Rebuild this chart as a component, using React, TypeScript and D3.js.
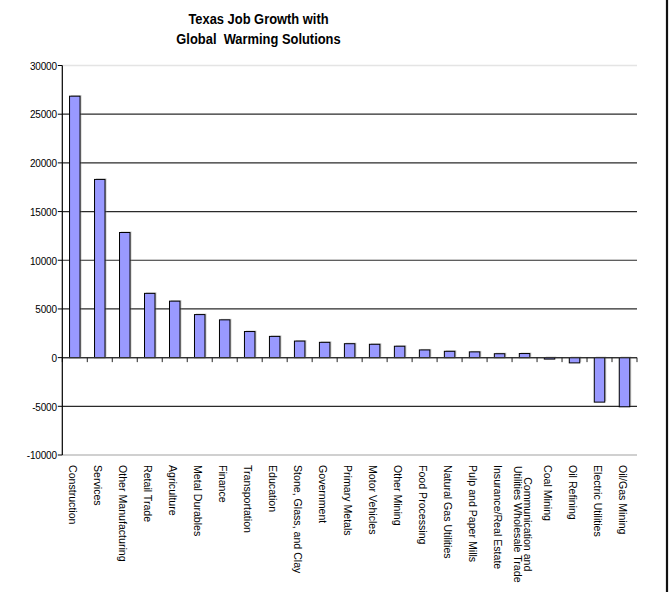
import React from "react";
import * as d3 from "d3";

const categories: string[] = [
  "Construction",
  "Services",
  "Other Manufacturing",
  "Retail Trade",
  "Agriculture",
  "Metal Durables",
  "Finance",
  "Transportation",
  "Education",
  "Stone, Glass, and Clay",
  "Government",
  "Primary Metals",
  "Motor Vehicles",
  "Other Mining",
  "Food Processing",
  "Natural Gas Utilities",
  "Pulp and Paper Mills",
  "Insurance/Real Estate",
  "Communication and\nUtilities Wholesale Trade",
  "Coal Mining",
  "Oil Refining",
  "Electric Utilities",
  "Oil/Gas Mining",
];

const jobs: number[] = [
  26850, 18300, 12850, 6600, 5800, 4420, 3880, 2680, 2180, 1700, 1570, 1430,
  1370, 1170, 790, 650, 590, 400, 420, -150, -540, -4570, -5050,
];

const yTicks: number[] = [30000, 25000, 20000, 15000, 10000, 5000, 0, -5000, -10000];

const titleLines: string[] = ["Texas Job Growth with", "Global  Warming Solutions"];

const W = 671;
const H = 592;
const left = 62.3;
const right = 637;
const top = 65.5;
const bottom = 455;
const labelTop = 465;
const FONT = "Arial, 'Liberation Sans', sans-serif";

export default function App() {
  const x = d3
    .scaleBand<string>()
    .domain(categories)
    .range([left, right])
    .paddingInner(0.58)
    .paddingOuter(0.29);
  const y = d3.scaleLinear().domain([-10000, 30000]).range([bottom, top]);
  const step = x.step();
  const y0 = y(0);
  const boundaries = d3.range(categories.length + 1).map((k) => left + k * step);

  return (
    <svg
      width={W}
      height={H}
      style={{ position: "absolute", left: 0, top: 0, background: "#fff" }}
      fontFamily={FONT}
    >
      <rect x={0} y={0} width={W} height={H} fill="#fff" />

      {/* title */}
      {titleLines.map((t, i) => (
        <text
          key={t}
          transform={`translate(258.5, ${24.3 + i * 20}) scale(0.833,1)`}
          textAnchor="middle"
          fontSize={15.5}
          fontWeight="bold"
          fill="#000"
          style={{ whiteSpace: "pre" }}
        >
          {t}
        </text>
      ))}

      {/* gridlines */}
      {yTicks.map((v) => {
        const light = v === 30000 || v === -10000;
        return (
          <line
            key={v}
            x1={left}
            x2={right}
            y1={y(v)}
            y2={y(v)}
            stroke={v === 30000 ? "#e4e4e4" : v === -10000 ? "#c0c0c0" : "#2a2a2a"}
            strokeWidth={light ? 1.5 : 1.2}
          />
        );
      })}

      {/* bars */}
      {categories.map((c, i) => {
        const v = jobs[i];
        const bx = x(c)!;
        const bw = x.bandwidth();
        const yt = Math.min(y(v), y0);
        const h = Math.abs(y(v) - y0);
        return (
          <g key={c}>
            <rect x={bx + 1.5} y={yt - 1} width={bw} height={h} fill="#8a8a8a" opacity={0.45} />
            <rect x={bx} y={yt} width={bw} height={h} fill="#9999ff" stroke="#000" strokeWidth={1} />
          </g>
        );
      })}

      {/* zero axis with ticks */}
      <line x1={left} x2={right} y1={y0} y2={y0} stroke="#333" strokeWidth={1.2} />
      {boundaries.map((bx, k) => (
        <line key={k} x1={bx} x2={bx} y1={y0} y2={y0 + 4.5} stroke="#222" strokeWidth={1} />
      ))}

      {/* y axis */}
      <line x1={left} x2={left} y1={top} y2={bottom} stroke="#000" strokeWidth={1.2} />
      {yTicks.map((v) => (
        <g key={v}>
          <line x1={left - 4.5} x2={left} y1={y(v)} y2={y(v)} stroke="#000" strokeWidth={1} />
          <text
            x={56.8}
            y={y(v) + 0.8}
            textAnchor="end"
            dominantBaseline="central"
            fontSize={10}
            letterSpacing={-0.2}
            fill="#000"
          >
            {v}
          </text>
        </g>
      ))}

      {/* category labels, rotated to read downward */}
      {categories.map((c) => {
        const cx = x(c)! + x.bandwidth() / 2 - 1.5;
        const lines = c.split("\n");
        if (lines.length === 1) {
          return (
            <text
              key={c}
              transform={`translate(${cx}, ${labelTop}) rotate(90)`}
              textAnchor="start"
              dominantBaseline="central"
              fontSize={10.6}
              fill="#000"
            >
              {c}
            </text>
          );
        }
        // multi-line label: lines centred on the middle of the longest line
        const longest = lines.reduce((a, b) => (b.length > a.length ? b : a));
        const mid = labelTop + longest.length * 2.37;
        const gap = 10;
        return (
          <g key={c}>
            {lines.map((ln, j) => (
              <text
                key={ln}
                transform={`translate(${cx + ((lines.length - 1) / 2 - j) * gap}, ${mid}) rotate(90)`}
                textAnchor="middle"
                dominantBaseline="central"
                fontSize={10.6}
                fill="#000"
              >
                {ln}
              </text>
            ))}
          </g>
        );
      })}

      {/* chart frame edge */}
      <line x1={667} x2={667} y1={0} y2={H} stroke="#111" strokeWidth={2.2} />
    </svg>
  );
}
